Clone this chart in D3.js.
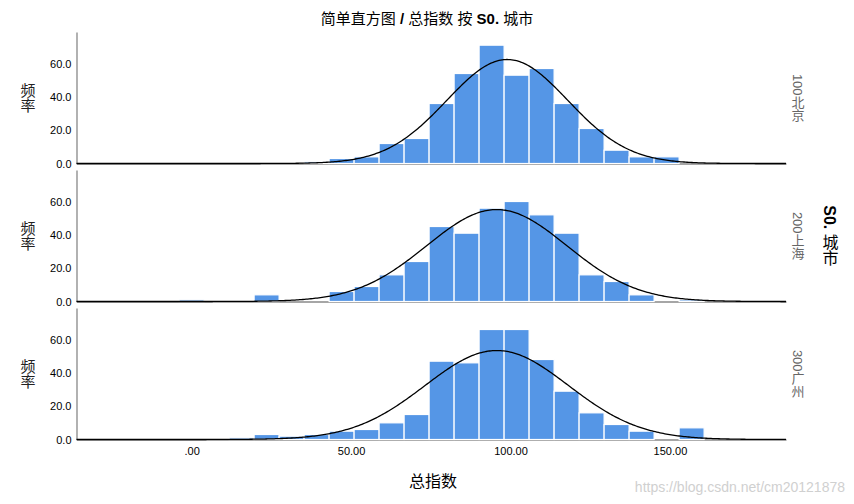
<!DOCTYPE html>
<html><head><meta charset="utf-8">
<script src="https://cdn.jsdelivr.net/npm/d3@7/dist/d3.min.js"></script>
<style>
html,body{margin:0;padding:0;background:#fff;}
svg{display:block;font-family:"Liberation Sans","Noto Sans CJK SC",sans-serif;}
</style></head>
<body>
<svg id="chart" width="854" height="504"></svg>
<script>
// ---- data ----
const binWidth = 7.84;
const binCenters = [0, 7.84, 15.68, 23.52, 31.36, 39.2, 47.04, 54.88, 62.72, 70.56, 78.4, 86.24, 94.08, 101.92, 109.76, 117.6, 125.44, 133.28, 141.12, 148.96, 156.8];
const cities = ["100北京", "200上海", "300广州"];
const beijing   = [0, 0, 0, 0, 0, 1, 3, 4, 12, 15, 36, 54, 71, 53, 57, 36, 21, 8, 4, 4, 0];
const shanghai  = [1, 0, 0, 4, 0, 0, 6, 9, 16, 24, 45, 41, 56, 60, 52, 41, 16, 12, 4, 0, 1];
const guangzhou = [0, 0, 1, 3, 2, 3, 5, 6, 10, 15, 47, 46, 66, 66, 48, 29, 16, 9, 5, 0, 7];
const curveMean = [99.0, 95.7, 95.7];
const curveSd   = [19.0, 22.0, 22.5];
const xTicks = [0, 50, 100, 150];
const xTickLabels = [".00", "50.00", "100.00", "150.00"];
const yTicks = [0, 20, 40, 60];
const seriesList = [beijing, shanghai, guangzhou];

// ---- layout ----
const svg = d3.select("#chart");
const left = 76.5, right = 786;
const panelTop0 = 32, panelStep = 138, panelH = 131.5;
const x = d3.scaleLinear().domain([-36.1, 186.4]).range([left, right]);

const title = svg.append("text").attr("x", 427).attr("y", 24).attr("text-anchor", "middle")
  .attr("font-size", 15).attr("fill", "#000");
title.append("tspan").text("简单直方图 ");
title.append("tspan").attr("font-weight", "bold").text("/");
title.append("tspan").text("  总指数 按 ");
title.append("tspan").attr("font-weight", "bold").text("S0.");
title.append("tspan").text(" 城市");

seriesList.forEach((vals, i) => {
  const top = panelTop0 + i * panelStep;
  const base = top + panelH;
  const y = d3.scaleLinear().domain([0, 78.9]).range([base, top]);
  const g = svg.append("g");

  // y axis
  const yAxis = d3.axisLeft(y).tickValues(yTicks).tickFormat(d3.format(".1f")).tickSize(0).tickPadding(5);
  const ya = g.append("g").attr("transform", `translate(${left},0)`).call(yAxis);
  ya.select(".domain").attr("stroke", "#888").attr("stroke-width", 1.3);
  ya.selectAll("text").attr("font-size", 11).attr("fill", "#000").attr("font-family", "Liberation Sans, sans-serif");

  // x baseline
  const xAxis = d3.axisBottom(x).tickValues(i === 2 ? xTicks : []).tickFormat((d, k) => xTickLabels[k]).tickSize(0).tickPadding(8);
  const xa = g.append("g").attr("transform", `translate(0,${base})`).call(xAxis);
  xa.select(".domain").attr("stroke", "#888").attr("stroke-width", 1.3);
  xa.selectAll("text").attr("font-size", 11).attr("fill", "#000").attr("font-family", "Liberation Sans, sans-serif");

  // bars
  const data = binCenters.map((c, k) => ({c, v: vals[k]})).filter(d => d.v > 0);
  g.selectAll("rect.bar").data(data).enter().append("rect")
    .attr("class", "bar")
    .attr("x", d => x(d.c - binWidth / 2))
    .attr("width", d => x(d.c + binWidth / 2) - x(d.c - binWidth / 2))
    .attr("y", d => y(d.v))
    .attr("height", d => base - y(d.v))
    .attr("fill", "#5596e6")
    .attr("stroke", "#fff").attr("stroke-width", 1.2);

  // normal curve
  const n = d3.sum(vals), mu = curveMean[i], sd = curveSd[i];
  const pts = d3.range(x.domain()[0], x.domain()[1] + 0.01, 0.5).map(t =>
    [t, n * binWidth / (sd * Math.sqrt(2 * Math.PI)) * Math.exp(-0.5 * ((t - mu) / sd) ** 2)]);
  g.append("path").datum(pts)
    .attr("d", d3.line().x(d => x(d[0])).y(d => y(d[1])))
    .attr("fill", "none").attr("stroke", "#000").attr("stroke-width", 1.3);

  // y label
  g.append("text").attr("x", 28).attr("y", (top + base) / 2)
    .attr("text-anchor", "middle").attr("font-size", 15).attr("fill", "#222")
    .style("writing-mode", "vertical-rl").attr("font-family", "Noto Sans CJK SC, sans-serif")
    .text("频率");

  // panel label right
  g.append("text").attr("x", 797).attr("y", (top + base) / 2)
    .attr("text-anchor", "middle").attr("font-size", 13).attr("fill", "#666")
    .style("writing-mode", "vertical-rl")
    .text(cities[i]);
});

// right facet title
const ft = svg.append("text").attr("x", 829).attr("y", 235.5).attr("text-anchor", "middle")
  .attr("font-size", 16).attr("fill", "#000").style("writing-mode", "vertical-rl");
ft.append("tspan").attr("font-weight", "bold").text("S0.");
ft.append("tspan").text(" 城市");

// x axis title
svg.append("text").attr("x", 433).attr("y", 487).attr("text-anchor", "middle")
  .attr("font-size", 16).attr("fill", "#000").text("总指数");

// watermark
svg.append("text").attr("x", 845).attr("y", 492).attr("text-anchor", "end")
  .attr("font-size", 14).attr("fill", "#d0d0d0").text("https://blog.csdn.net/cm20121878");
</script>
</body></html>
